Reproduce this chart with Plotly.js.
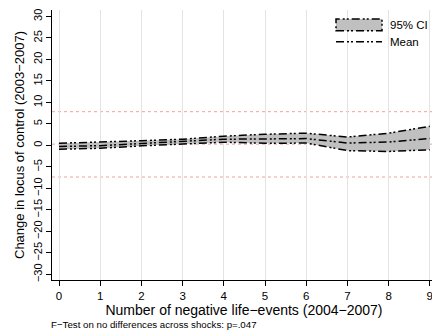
<!DOCTYPE html>
<html>
<head>
<meta charset="utf-8">
<script src="https://cdn.plot.ly/plotly-3.0.1.min.js"></script>
<style>html,body{margin:0;padding:0;background:#fff;overflow:hidden;}#chart{width:440px;height:332px;}</style>
</head>
<body>
<div id="chart"></div>
<script>
// Data
var shocks = [0, 1, 2, 3, 4, 5, 6, 7, 8, 9];
var meanChange = [-0.25, -0.05, 0.45, 0.9, 1.45, 1.5, 1.6, 0.55, 0.8, 1.6];
var ciUpper = [0.5, 0.75, 1.1, 1.45, 2.15, 2.6, 2.85, 1.95, 2.85, 4.45];
var ciLower = [-0.9, -0.65, -0.1, 0.35, 0.75, 0.5, 0.55, -1.2, -1.4, -1.0];
var refLines = [7.85, 0.3, -7.35];
var yTicks = [-30, -25, -20, -15, -10, -5, 0, 5, 10, 15, 20, 25, 30];
var xTicks = [0, 1, 2, 3, 4, 5, 6, 7, 8, 9];
var legendLabels = ["95% CI", "Mean"];
var noteText = "F\u2212Test on no differences across shocks: p=.047";

var FONT = "Liberation Sans, Arial, Helvetica, sans-serif";
var dashPat = "8px,3px,2px,2px,2px,3px";
var CI_FILL = "#c0c0c0";

var traces = [
  {x: shocks, y: ciLower, type: "scatter", mode: "lines", showlegend: false,
   line: {color: "#000", width: 1.5, dash: dashPat}, hoverinfo: "skip"},
  {x: shocks, y: ciUpper, type: "scatter", mode: "lines", name: legendLabels[0], showlegend: false,
   fill: "tonexty", fillcolor: CI_FILL,
   line: {color: "#000", width: 1.5, dash: dashPat}},
  {x: shocks, y: meanChange, type: "scatter", mode: "lines", name: legendLabels[1], showlegend: false,
   line: {color: "#000", width: 1.5, dash: dashPat}}
];

var shapes = refLines.map(function (v) {
  return {type: "line", xref: "paper", x0: 0, x1: 1, yref: "y", y0: v, y1: v,
          line: {color: "#f4a0a0", width: 1, dash: "dot"}, layer: "below"};
});

// legend keys (drawn in paper coordinates, like a Stata legend)
shapes.push({type: "rect", xref: "paper", yref: "paper", x0: 0.7396, x1: 0.8594, y0: 0.9233, y1: 0.9667,
             fillcolor: CI_FILL, line: {color: "#000", width: 1.5, dash: dashPat}});
shapes.push({type: "line", xref: "paper", yref: "paper", x0: 0.7396, x1: 0.8594, y0: 0.8826, y1: 0.8826,
             line: {color: "#000", width: 1.5, dash: dashPat}});

var layout = {
  width: 440, height: 332,
  margin: {l: 52, r: 4, t: 10, b: 52},
  paper_bgcolor: "#fff", plot_bgcolor: "#fff",
  font: {family: FONT, color: "#000", size: 11},
  showlegend: false,
  xaxis: {
    range: [-0.17, 9.15], tickvals: xTicks, ticktext: xTicks.map(String),
    showgrid: true, gridcolor: "#e3e3e3", gridwidth: 1, zeroline: false,
    showline: true, linecolor: "#000", linewidth: 1,
    ticks: "outside", ticklen: 5, tickcolor: "#000",
    tickfont: {size: 11.5},
    title: {text: "Number of negative life\u2212events (2004\u22122007)", font: {size: 14}, standoff: 1}
  },
  yaxis: {
    range: [-31.3, 31.5], tickvals: yTicks, ticktext: yTicks.map(function (v) { return v < 0 ? "\u2212" + Math.abs(v) : String(v); }),
    tickangle: -90, showgrid: false, zeroline: false,
    showline: true, linecolor: "#000", linewidth: 1,
    ticks: "outside", ticklen: 5, tickcolor: "#000",
    tickfont: {size: 11},
    title: {text: "Change in locus of control (2003\u22122007)", font: {size: 13}, standoff: 4}
  },
  shapes: shapes,
  annotations: [
    {text: legendLabels[0], xref: "paper", yref: "paper", x: 0.875, y: 0.945,
     xanchor: "left", yanchor: "middle", showarrow: false, font: {family: FONT, size: 11.5, color: "#000"}},
    {text: legendLabels[1], xref: "paper", yref: "paper", x: 0.875, y: 0.8826,
     xanchor: "left", yanchor: "middle", showarrow: false, font: {family: FONT, size: 11.5, color: "#000"}},
    {text: noteText, xref: "paper", yref: "paper", x: -0.008, y: -0.163,
     xanchor: "left", yanchor: "middle", showarrow: false,
     font: {family: FONT, size: 9.7, color: "#000"}}
  ]
};

Plotly.newPlot("chart", traces, layout, {staticPlot: true, displayModeBar: false});
</script>
</body>
</html>
